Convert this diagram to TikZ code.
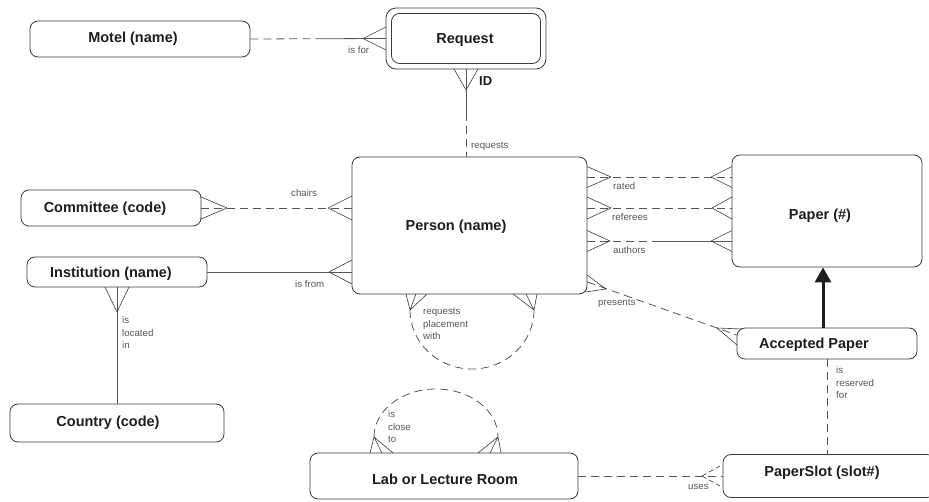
\documentclass[tikz,border=0pt]{standalone}
\usepackage{fontspec}
\setmainfont{Liberation Sans}
\usetikzlibrary{calc,arrows.meta}
\definecolor{edge}{HTML}{3A3A3A}
\definecolor{link}{HTML}{555555}
\definecolor{notecol}{HTML}{555555}
\definecolor{ink}{HTML}{1E1E1E}

\begin{document}
\begin{tikzpicture}[x=1pt,y=-1pt,
  entity/.style={draw=edge, line width=0.8pt, rounded corners=8pt, fill=white, inner sep=0pt},
  title/.style={font=\fontsize{14.5}{17}\selectfont\bfseries, text=ink, inner sep=0pt},
  note/.style={font=\fontsize{9.7}{12.5}\selectfont, text=notecol, inner sep=0pt, anchor=west},
  notes/.style={font=\fontsize{9.7}{12.5}\selectfont, text=notecol, inner sep=0pt, anchor=north west, align=left},
  rel/.style={draw=link, line width=0.8pt},
  opt/.style={rel, dash pattern=on 8pt off 5pt},
  prong/.style={draw=edge, line width=0.6pt},
]
\useasboundingbox (0,0) rectangle (929,502);

% ---- self relationships (dashed loops) ----
\draw[opt] (410,310) arc[start angle=180, end angle=0, x radius=62, y radius=59];
\draw[opt] (374,437) arc[start angle=180, end angle=360, x radius=62, y radius=48];

% ---- entities ----
\node[entity, minimum width=220pt, minimum height=36pt] (motel) at (140,39) {};
\node[title] (motelT) at (133,39) {Motel (name)};

\node[entity, minimum width=160pt, minimum height=61pt, rounded corners=10pt] (request) at (466,38.5) {};
\node[entity, minimum width=149pt, minimum height=50pt] (requestIn) at (466,38.5) {};
\node[title] (requestT) at (465,40) {Request};

\node[entity, minimum width=235pt, minimum height=137pt] (person) at (469.5,225.5) {};
\node[title] (personT) at (456,227) {Person (name)};

\node[entity, minimum width=180pt, minimum height=36pt] (committee) at (111,208) {};
\node[title] (committeeT) at (105,209) {Committee (code)};

\node[entity, minimum width=180pt, minimum height=30pt] (institution) at (117,272) {};
\node[title] (institutionT) at (111,274) {Institution (name)};

\node[entity, minimum width=214pt, minimum height=38pt] (country) at (117,423) {};
\node[title] (countryT) at (108,423) {Country (code)};

\node[entity, minimum width=190pt, minimum height=112pt] (paper) at (827,211) {};
\node[title] (paperT) at (820,216) {Paper (\#)};

\node[entity, minimum width=180pt, minimum height=31pt] (accepted) at (827,343.5) {};
\node[title] (acceptedT) at (814,345) {Accepted Paper};

\node[entity, minimum width=212pt, minimum height=43pt] (paperslot) at (829,476) {};
\node[title] (paperslotT) at (822,473) {PaperSlot (slot\#)};

\node[entity, minimum width=268pt, minimum height=46pt] (lab) at (444,476) {};
\node[title] (labT) at (445,479) {Lab or Lecture Room};

% ---- relationships ----
% Motel -- Request (optional on the Motel side)
\draw[opt] (motel.east) -- ($(motel.east)!0.5!(request.west)$);
\draw[rel] ($(motel.east)!0.5!(request.west)$) -- (request.west);
\draw[prong] (363,38.5) -- (386,27) (363,38.5) -- (386,50);
\node[note] (isfor) at (348,50) {is for};

% Request -- Person
\draw[rel] (request.south) -- ($(request.south)!0.5!(request.south |- person.north)$);
\draw[opt] ($(request.south)!0.5!(request.south |- person.north)$) -- (request.south |- person.north);
\draw[prong] (466,90) -- (454,69) (466,90) -- (478,69);
\node[title, font=\fontsize{13}{15}\selectfont\bfseries, anchor=west] (idT) at (479,81) {ID};
\node[note] (requests) at (471,146) {requests};

% Committee -- Person
\draw[opt] (committee.east) -- (committee.east -| person.west);
\draw[prong] (227,208) -- (201,197) (227,208) -- (201,219);
\draw[prong] (328,208) -- (352,196) (328,208) -- (352,220);
\node[note] (chairs) at (291,193) {chairs};

% Institution -- Person
\draw[rel] (institution.east) -- (institution.east -| person.west);
\draw[prong] (329,272) -- (352,260) (329,272) -- (352,284);
\node[note] (isfrom) at (295,284) {is from};

% Institution -- Country
\draw[rel] (institution.south) -- (country.north);
\draw[prong] (117,312) -- (105,287) (117,312) -- (129,287);
\node[notes] (located) at (122,316.5) {is\\located\\in};

% Person -- Paper
\draw[opt] (person.east |- 0,177) -- (paper.west |- 0,177);
\draw[prong] (611,177) -- (587,166.5) (611,177) -- (587,187.5);
\draw[prong] (711,177) -- (732,166.5) (711,177) -- (732,187.5);
\node[note] (rated) at (613,186) {rated};

\draw[opt] (person.east |- 0,208) -- (paper.west |- 0,208);
\draw[prong] (611,208) -- (587,197) (611,208) -- (587,219);
\draw[prong] (712,208) -- (732,197) (712,208) -- (732,219);
\node[note] (referees) at (612,217) {referees};

\draw[opt] (person.east |- 0,241) -- ($(person.east |- 0,241)!0.5!(paper.west |- 0,241)$);
\draw[rel] ($(person.east |- 0,241)!0.5!(paper.west |- 0,241)$) -- (paper.west |- 0,241);
\draw[prong] (610,241) -- (587,230.5) (610,241) -- (587,251.5);
\draw[prong] (711,241) -- (732,230.5) (711,241) -- (732,251.5);
\node[note] (authors) at (613,250) {authors};

% Person -- Accepted Paper
\draw[opt] (person.east |- 0,282) -- (accepted.west |- 0,335);
\draw[prong] (606,289) -- (587,275) (606,289) -- (585,292);
\draw[prong] (717,328) -- (742,329) (717,328) -- (737,345);
\node[note] (presents) at (598,303) {presents};

% Accepted Paper is a Paper
\draw[ink, line width=3pt, -{Triangle[length=15pt,width=16pt]}]
  ([xshift=-4pt]accepted.north) -- ([xshift=-4pt]paper.south);

% Accepted Paper -- PaperSlot
\draw[opt] (accepted.south) -- (accepted.south |- paperslot.north);
\node[notes] (reserved) at (836,366.5) {is\\reserved\\for};

% Lab -- PaperSlot
\draw[opt] (lab.east) -- (paperslot.west);
\draw[prong, dash pattern=on 5pt off 3pt] (702,476) -- (720,466) (702,476) -- (720,486);
\node[note] (uses) at (688,487) {uses};

% loop crow's feet and labels
\draw[prong] (410,310) -- (406,294) (410,310) -- (416,294) (410,310) -- (427,294);
\draw[prong] (534,310) -- (513,294) (534,310) -- (526,294) (534,310) -- (537,294);
\node[notes] (placement) at (423,308.5) {requests\\placement\\with};

\draw[prong] (374,437) -- (370,453) (374,437) -- (382,453) (374,437) -- (393,453);
\draw[prong] (498,437) -- (478,453) (498,437) -- (490,453) (498,437) -- (501,453);
\node[notes] (closeto) at (388,410.5) {is\\close\\to};
\end{tikzpicture}
\end{document}
